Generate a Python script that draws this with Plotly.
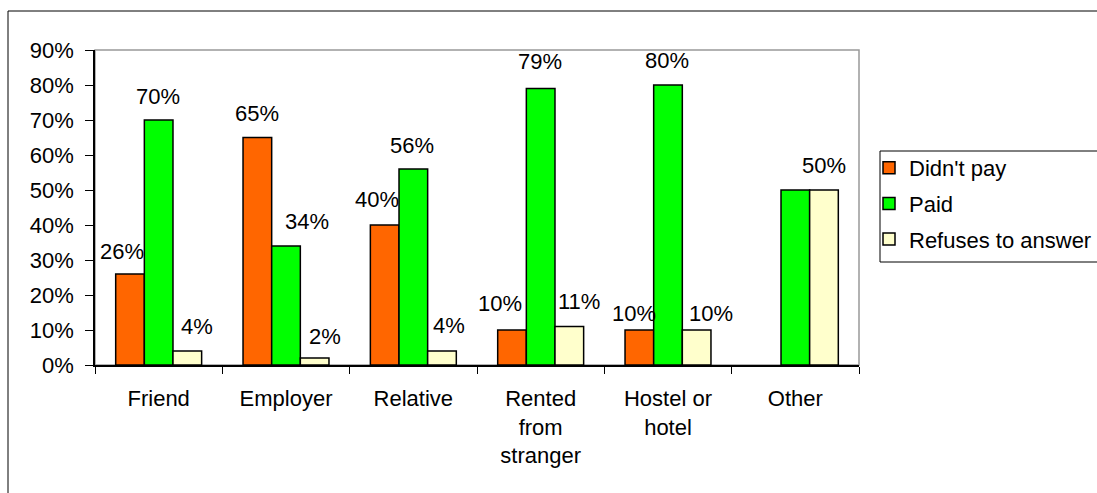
import plotly.graph_objects as go

# Where the respondents stayed, split by whether they paid for it (% of each group)
categories = ["Friend", "Employer", "Relative", "Rented<br>from<br>stranger", "Hostel or<br>hotel", "Other"]
didnt_pay = [26, 65, 40, 10, 10, None]
paid = [70, 34, 56, 79, 80, 50]
refuses = [4, 2, 4, 11, 10, 50]

series_names = ["Didn't pay", "Paid", "Refuses to answer"]
series_values = [didnt_pay, paid, refuses]
series_colors = ["#FF6600", "#00FF00", "#FFFFCC"]

# Which bars carry a value label (the "Other / Paid" label is hidden under its neighbour)
show_label = [
    [True, True, True, True, True, False],
    [True, True, True, True, True, False],
    [True, True, True, True, True, True],
]
# Per-label nudges in pixels (dx, dy above the bar top) to keep labels apart
label_nudge = [
    [(-8, 23), (0, 24), (-8, 26), (-12, 27), (-5, 17), (0, 24)],
    [(-1, 24), (21, 25), (-1, 24), (-1, 27), (-1, 25), (0, 24)],
    [(10, 25), (10, 22), (7, 26), (10, 25), (14, 17), (0, 25)],
]

W, H = 1097, 493
ML, MR, MT, MB = 95, 238, 50, 128
PW, PH = W - ML - MR, H - MT - MB
BARGAP = 0.325
FONT = dict(family="Arial, Liberation Sans, sans-serif", size=22, color="black")


def px_x(px):
    return (px - ML) / PW


def px_y(py):
    return (H - MB - py) / PH


fig = go.Figure()
for i, (name, vals, col) in enumerate(zip(series_names, series_values, series_colors)):
    fig.add_trace(go.Bar(
        x=categories, y=vals, name=name,
        marker=dict(color=col, line=dict(color="black", width=1.5)),
        legendgroup=name,
        hoverinfo="skip",
    ))

# value labels above the bars
cat_px = PW / len(categories)
bar_px = cat_px * (1 - BARGAP) / len(series_names)
annotations = []
for i, vals in enumerate(series_values):
    offset = (i - (len(series_names) - 1) / 2) * bar_px
    for j, v in enumerate(vals):
        if v is None or not show_label[i][j]:
            continue
        dx, dy = label_nudge[i][j]
        annotations.append(dict(
            x=categories[j], y=v, xref="x", yref="y",
            text=f"{v}%", showarrow=False,
            xanchor="center", yanchor="middle",
            xshift=offset + dx, yshift=dy,
            font=FONT,
        ))

shapes = [
    # outer chart frame
    dict(type="rect", xref="paper", yref="paper",
         x0=px_x(8), y0=px_y(520), x1=px_x(1120), y1=px_y(11),
         line=dict(color="black", width=1), layer="below"),
    # plot-area frame (grey top/right)
    dict(type="rect", xref="paper", yref="paper", x0=0, y0=0, x1=1, y1=1,
         line=dict(color="#999999", width=1.5), layer="below"),
    # legend frame
    dict(type="rect", xref="paper", yref="paper",
         x0=px_x(880), y0=px_y(262), x1=px_x(1120), y1=px_y(151),
         line=dict(color="black", width=1), fillcolor="white", layer="below"),
]

fig.update_layout(
    width=W, height=H,
    margin=dict(l=ML, r=MR, t=MT, b=MB, autoexpand=False),
    paper_bgcolor="white", plot_bgcolor="white",
    barmode="group", bargap=BARGAP, bargroupgap=0,
    font=FONT,
    showlegend=True,
    legend=dict(
        x=px_x(869), y=px_y(147), xanchor="left", yanchor="top",
        bgcolor="rgba(0,0,0,0)", borderwidth=0,
        font=FONT, tracegroupgap=4, traceorder="grouped",
    ),
    annotations=annotations,
    shapes=shapes,
)
fig.update_xaxes(
    type="category", showline=True, linecolor="black", linewidth=1.5,
    ticks="outside", tickson="boundaries", ticklen=7, tickcolor="black", tickwidth=1,
    tickfont=FONT, ticklabelstandoff=13, showgrid=False, zeroline=False,
    fixedrange=True,
)
fig.update_yaxes(
    range=[0, 90], dtick=10, ticksuffix="%",
    showline=True, linecolor="black", linewidth=1.5,
    ticks="outside", ticklen=8, tickcolor="black", tickwidth=1,
    tickfont=FONT, ticklabelstandoff=7, showgrid=False, zeroline=False,
    fixedrange=True,
)

fig.write_html("out.html")
